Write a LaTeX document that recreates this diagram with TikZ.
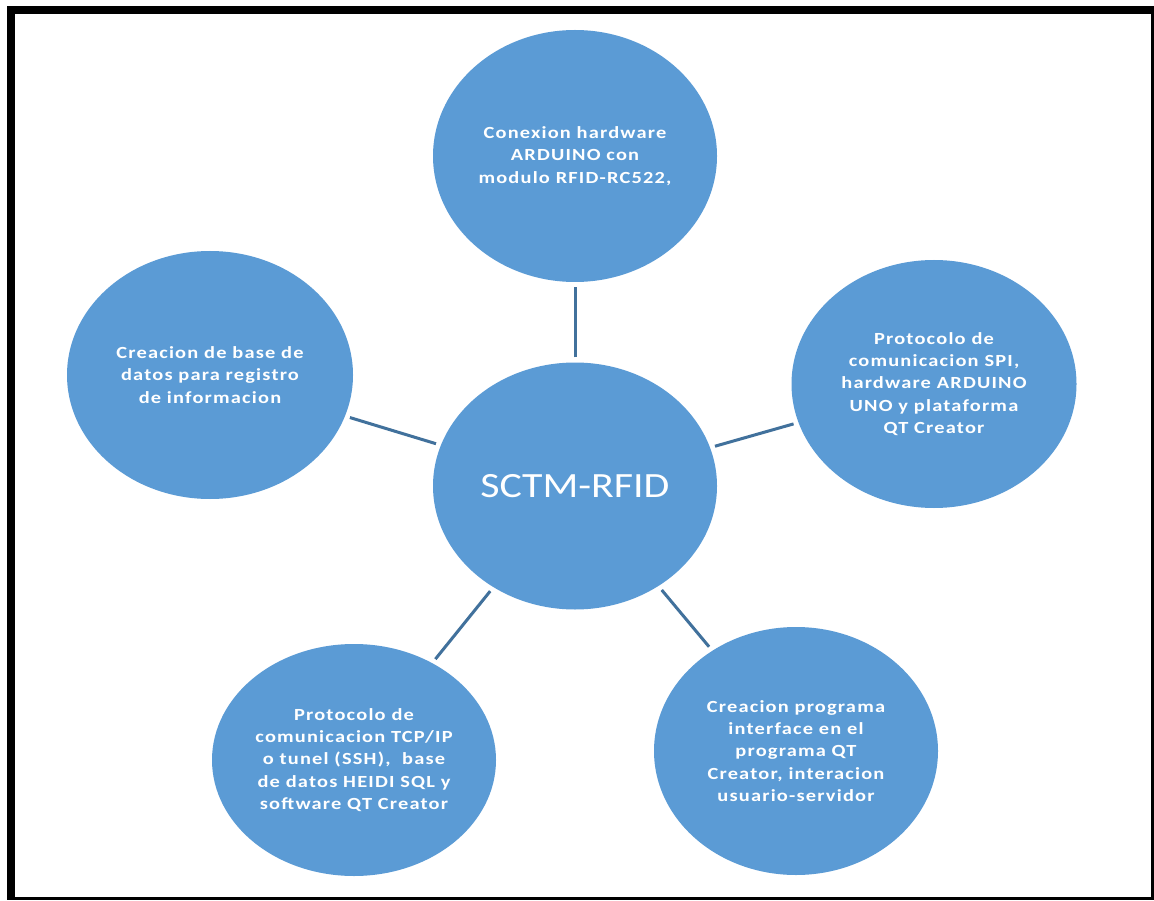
\documentclass[tikz,border=0pt]{standalone}
\usepackage{fontspec}
\setmainfont{Carlito}
\newfontfamily\bubblefont[FakeStretch=1.2,LetterSpace=7]{Carlito}
\newfontfamily\hubfont[FakeStretch=1.18]{Carlito}
\usetikzlibrary{shapes.geometric}
\definecolor{bubblefill}{HTML}{5B9BD5}
\definecolor{linkline}{HTML}{41719C}
\begin{document}
\begin{tikzpicture}[x=1pt,y=-1pt,
  bubble/.style={ellipse, fill=bubblefill, inner sep=0pt, text=white,
    align=center, minimum width=284pt,
    font=\bubblefont\bfseries\fontsize{17}{22.3}\selectfont},
  link/.style={draw=linkline, line width=3pt, shorten <=5pt, shorten >=5pt}]
\useasboundingbox (0,0) rectangle (1154,901);
\fill[white] (0,0) rectangle (1154,901);
% page frame: heavy on top and left, thin on right and bottom
\fill[black] (7,6) rectangle (15,899.5);
\fill[black] (7,6) rectangle (1153.5,14);
\fill[black] (1151,6) rectangle (1153.5,899.5);
\fill[black] (7,896.5) rectangle (1153.5,899.5);

% hub
\node[bubble, minimum height=247pt, font=\hubfont\fontsize{35.5}{40}\selectfont]
  (hub) at (575,486) {SCTM-RFID};

% satellites
\node[bubble, minimum height=252pt] (hw) at (575,156)
  {Conexion hardware\\ARDUINO con\\modulo RFID-RC522,};
\node[bubble, minimum height=248pt, minimum width=286pt] (db) at (210,375)
  {Creacion de base de\\datos para registro\\de informacion};
\node[bubble, minimum height=248pt, minimum width=285pt] (spi) at (934,384)
  {Protocolo de\\comunicacion SPI,\\hardware ARDUINO\\UNO y plataforma\\QT Creator};
\node[bubble, minimum height=232pt] (tcp) at (354,760)
  {Protocolo de\\comunicacion TCP/IP\\o tunel (SSH),~ base\\de datos HEIDI SQL y\\software QT Creator};
\node[bubble, minimum height=248pt] (gui) at (796,751)
  {Creacion programa\\interface en el\\programa QT\\Creator, interacion\\usuario-servidor};

% spokes
\draw[link] (hub) -- (hw);
\draw[link] (hub) -- (db);
\draw[link] (hub) -- (spi);
\draw[link] (hub) -- (tcp);
\draw[link] (hub) -- (gui);
\end{tikzpicture}
\end{document}
